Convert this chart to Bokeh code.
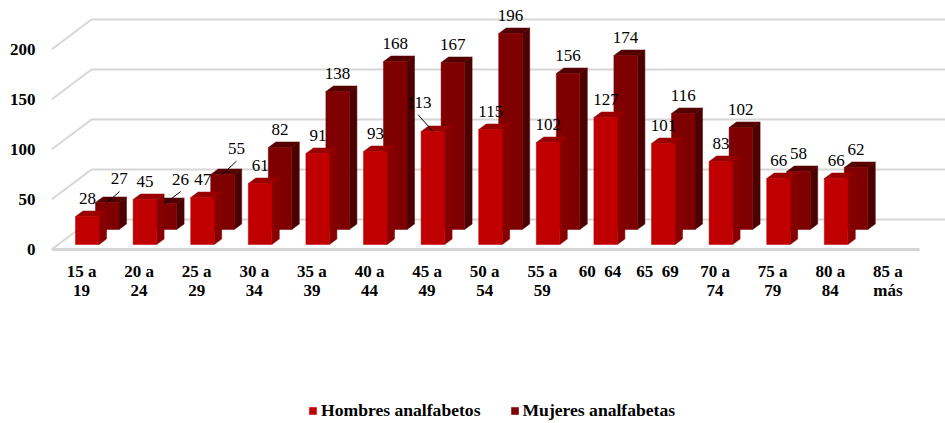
from bokeh.plotting import figure
from bokeh.embed import file_html
from bokeh.resources import INLINE
from bokeh.models import FixedTicker, Legend, LegendItem, ColumnDataSource
from bokeh.core.properties import value

categorias = ["15 a\n19", "20 a\n24", "25 a\n29", "30 a\n34", "35 a\n39", "40 a\n44", "45 a\n49",
              "50 a\n54", "55 a\n59", "60\u00a0\u00a064", "65\u00a0\u00a069", "70 a\n74", "75 a\n79",
              "80 a\n84", "85 a\nmás"]
hombres = [28, 45, 47, 61, 91, 93, 113, 115, 102, 127, 101, 83, 66, 66]
mujeres = [27, 26, 55, 82, 138, 168, 167, 196, 156, 174, 116, 102, 58, 62]
y_ticks = [0, 50, 100, 150, 200]

PX = 1 / 57.6                     # one pixel in x units (y units are pixels)
FONT = "Liberation Serif"
W, H = 945, 424

p = figure(width=W, height=H, output_backend="svg", toolbar_location=None,
           x_range=(-30 * PX, 15.0), y_range=(249 - H, 249),
           min_border_left=51, min_border_right=0, min_border_top=0, min_border_bottom=0,
           outline_line_color=None, margin=(0, -16, -17, 0),
           background_fill_color=None, border_fill_color=None)
p.grid.visible = False
p.xaxis.visible = False

# value axis
yax = p.yaxis[0]
yax.ticker = FixedTicker(ticks=y_ticks)
yax.axis_line_color = None
yax.major_tick_line_color = None
yax.minor_tick_line_color = None
yax.major_tick_in = 0
yax.major_tick_out = 0
yax.major_label_standoff = 16
yax.major_label_text_font = FONT
yax.major_label_text_font_style = "bold"
yax.major_label_text_font_size = "17px"
yax.major_label_text_color = "#000000"

# category labels
p.text(list(range(len(categorias))), [-12] * len(categorias), text=categorias,
       text_font=value(FONT), text_font_style="bold", text_font_size="17px",
       text_color="#000000", text_align="center", text_baseline="top", text_line_height=1.05)

# 3D wall and floor
DX, DY = 40 * PX, 30
GRID = "#d6d6d6"
x0, x1 = -30 * PX, 14.55
xe = 15.0
p.multi_line([[x0, x0 + DX, xe] for _ in y_ticks], [[t, t + DY, t + DY] for t in y_ticks],
             line_color=GRID, line_width=2)
p.segment([x0], [0], [x1], [0], line_color=GRID, line_width=3)


def bars(vals, left, base, front, top, side):
    w, d, dy = 23.5 * PX, 7.5 * PX, 5.5
    xs = [i + left for i in range(len(vals))]
    p.patches([[x + w, x + w + d, x + w + d, x + w] for x in xs],
              [[base, base + dy, base + v + dy, base + v] for v in vals],
              fill_color=side, line_color=side, line_width=0.5)
    p.patches([[x, x + d, x + w + d, x + w] for x in xs],
              [[base + v, base + v + dy, base + v + dy, base + v] for v in vals],
              fill_color=top, line_color=top, line_width=0.5)
    src = ColumnDataSource(dict(x=[x + w / 2 for x in xs], b=[base] * len(vals),
                                t=[base + v for v in vals]))
    return p.vbar(x="x", bottom="b", top="t", width=w, source=src,
                  fill_color=front, line_color=front, line_width=0.5)


r_m = bars(mujeres, 14 * PX, 20, "#7f0000", "#550000", "#4c0000")
r_h = bars(hombres, -6 * PX, 5, "#c00000", "#990000", "#860000")


def labels(vals, cx, base, moved):
    xs = [i + cx for i in range(len(vals))]
    ys = [base + v for v in vals]
    ox = [moved.get(i, (0, 0))[0] for i in range(len(vals))]
    oy = [moved.get(i, (0, 0))[1] for i in range(len(vals))]
    p.text(xs, ys, text=[str(v) for v in vals], x_offset=ox, y_offset=oy,
           text_font=value(FONT), text_font_size="17px", text_color="#000000",
           text_align="center", text_baseline="middle")


# labels moved by hand in the original, with their leader lines (offsets in pixels)
h_moved = {6: (-14, -11.5)}
m_moved = {0: (12, -5.6), 1: (15.7, -6), 2: (14, -7.6)}
h_leaders = {6: (-15, -16.7)}
m_leaders = {0: (12.3, -11), 1: (16, -12), 2: (14, -13.3)}

H_CX, M_CX = 6 * PX, 25.7 * PX
labels(hombres, H_CX, 5 + 17.9, h_moved)
labels(mujeres, M_CX, 20 + 18.2, m_moved)

sx, sy, ex, ey = [], [], [], []
for vals, cx, base, lead in ((hombres, H_CX, 5, h_leaders), (mujeres, M_CX, 20, m_leaders)):
    for i, (ox, oy) in lead.items():
        sx.append(i + cx + ox * PX)
        sy.append(base + vals[i] - oy)
        ex.append(i + cx)
        ey.append(base + vals[i])
p.segment(sx, sy, ex, ey, line_color="#000000", line_width=1)

legend = Legend(items=[LegendItem(label="Hombres analfabetos", renderers=[r_h]),
                       LegendItem(label="Mujeres analfabetas", renderers=[r_m])],
                orientation="horizontal", location=(257, 3), margin=0, padding=0,
                spacing=29, glyph_width=9, glyph_height=9, label_standoff=4,
                border_line_color=None, background_fill_color=None,
                label_text_font=FONT, label_text_font_style="bold",
                label_text_font_size="17.6px", label_text_color="#000000")
p.add_layout(legend, "center")

open("out.html", "w").write(file_html(p, INLINE))
